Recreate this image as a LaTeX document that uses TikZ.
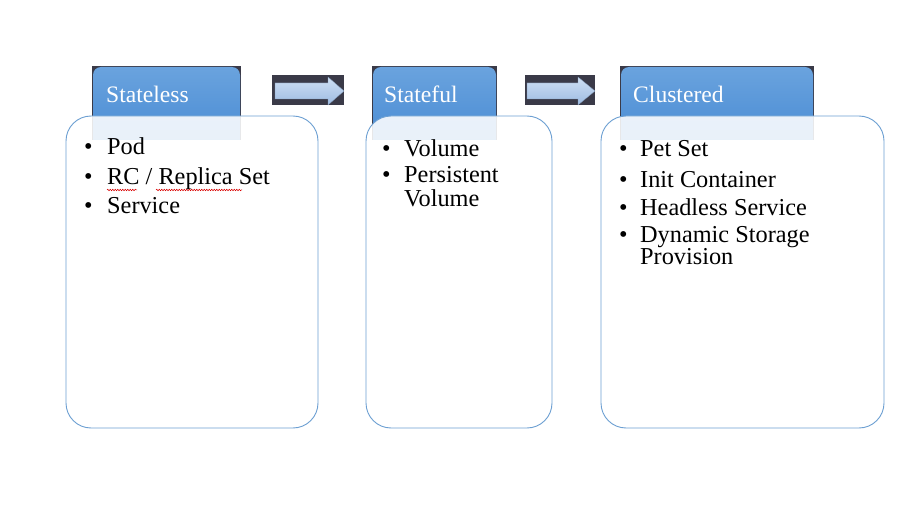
\documentclass[tikz,border=0pt]{standalone}
\usepackage{fontspec}
\setmainfont{Liberation Serif}
\usetikzlibrary{decorations.pathmorphing}
\definecolor{hdark}{HTML}{3A3A48}
\definecolor{hbluetop}{HTML}{6AA3DE}
\definecolor{hbluebot}{HTML}{4A8CD4}
\definecolor{arrtop}{HTML}{CFE0F4}
\definecolor{arrbot}{HTML}{9DBBE2}
\definecolor{bodyline}{HTML}{6C9FD2}
\tikzset{
  hdr/.style={top color=hbluetop, bottom color=hbluebot},
  bodybox/.style={draw=bodyline, line width=0.9pt, fill=white, fill opacity=0.88, draw opacity=1, rounded corners=25pt},
  arrbox/.style={fill=hdark},
  arrshape/.style={top color=arrtop, bottom color=arrbot, draw=arrbot!80!black, line width=0.3pt},
  title/.style={anchor=base west, text=white, inner sep=0pt, font=\fontsize{23.6}{28}\selectfont},
  item/.style={anchor=base west, inner sep=0pt, font=\fontsize{24.3}{29}\selectfont},
  wrapfirst/.style={item, text depth=0pt},
  wrapnext/.style={item, text height=14pt},
  bul/.style={anchor=base west, inner sep=0pt, font=\fontsize{24.3}{29}\selectfont},
  squiggle/.style={draw=red!85!black, line width=0.5pt, decorate, decoration={snake, amplitude=0.8pt, segment length=2.5pt}}
}
\begin{document}
\begin{tikzpicture}[x=1pt, y=-1pt]
\useasboundingbox (0,0) rectangle (914,516);
\fill[white] (0,0) rectangle (914,516);

% ---- header backgrounds ----
\fill[hdark] (92,66) rectangle (241,140);
\path[hdr] (93,140) [rounded corners=8pt] -- (93,67) -- (240,67) [sharp corners] -- (240,140) -- cycle;
\fill[hdark] (372,66) rectangle (497,140);
\path[hdr] (373,140) [rounded corners=8pt] -- (373,67) -- (496,67) [sharp corners] -- (496,140) -- cycle;
\fill[hdark] (620,66) rectangle (814,140);
\path[hdr] (621,140) [rounded corners=8pt] -- (621,67) -- (813,67) [sharp corners] -- (813,140) -- cycle;

\node[title] (t1) at (106,103) {Stateless};
\node[title] (t2) at (384,103) {Stateful};
\node[title] (t3) at (633,103) {Clustered};

% ---- body boxes ----
\path[bodybox] (66,116) rectangle (318,428);
\path[bodybox] (366,116) rectangle (552,428);
\path[bodybox] (601,116) rectangle (884,428);

% ---- arrows ----
\fill[arrbox] (272,75) rectangle (344,105);
\path[arrshape] (275,83) -- (328,83) -- (328,77) -- (344,91) -- (328,105) -- (328,99) -- (275,99) -- cycle;
\fill[arrbox] (525,75) rectangle (595,105);
\path[arrshape] (527,83) -- (578,83) -- (578,77) -- (595,91) -- (578,105) -- (578,99) -- (527,99) -- cycle;

% ---- Stateless items ----
\node[bul] (b11) at (84,155) {•};
\node[item] (i11) at (107,155) {Pod};
\node[bul] (b12) at (84,185) {•};
\node[item] (i12) at (107,185) {RC / Replica Set};
\node[bul] (b13) at (84,214) {•};
\node[item] (i13) at (107,214) {Service};
\coordinate (s1a) at (107,190);
\coordinate (s1b) at (137,190);
\coordinate (s2a) at (156,190);
\coordinate (s2b) at (242,190);
\path[squiggle] (s1a) -- (s1b);
\path[squiggle] (s2a) -- (s2b);

% ---- Stateful items ----
\node[bul] (b21) at (382,157) {•};
\node[item] (i21) at (404,157) {Volume};
\node[bul] (b22) at (382,183) {•};
\node[wrapfirst] (i22) at (404,183) {Persistent};
\node[wrapnext] (i23) at (404,207) {Volume};

% ---- Clustered items ----
\node[bul] (b31) at (619,157) {•};
\node[item] (i31) at (640,157) {Pet Set};
\node[bul] (b32) at (619,188) {•};
\node[item] (i32) at (640,188) {Init Container};
\node[bul] (b33) at (619,215) {•};
\node[item] (i33) at (640,215) {Headless Service};
\node[bul] (b34) at (619,243) {•};
\node[wrapfirst] (i34) at (640,243) {Dynamic Storage};
\node[wrapnext] (i35) at (640,265) {Provision};
\end{tikzpicture}
\end{document}
